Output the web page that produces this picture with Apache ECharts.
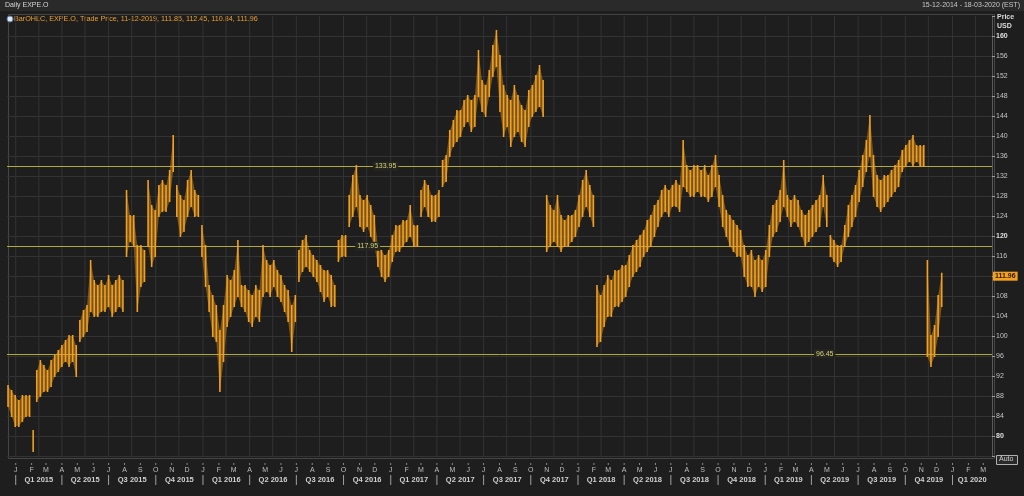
<!DOCTYPE html>
<html><head><meta charset="utf-8">
<script src="https://cdn.jsdelivr.net/npm/echarts@6/dist/echarts.min.js"></script>
<style>html,body{margin:0;padding:0;background:#1e1e1e}#c{width:1024px;height:496px}</style>
</head><body><div id="c"></div><script>
// ---- data (weekly high / low) ----
const firstWeek = '2014-12-15';
const weekHigh = [
90,89,88,87,88,88,88,81,93,95,
94,93,95,96,97,98,99,100,100,98,
103,105,106,115,111,110,111,110,112,110,
111,112,111,129,124,124,118,118,117,131,
126,125,130,131,130,133,140,130,128,127,
131,133,129,128,122,118,110,108,106,101,
106,112,111,113,119,110,110,109,108,110,
109,118,115,114,115,113,112,110,109,106,
108,117,119,120,117,116,115,114,113,113,
112,110,119,120,120,128,132,134,128,127,
128,126,124,118,117,116,117,120,122,122,
123,123,126,122,122,129,131,130,128,128,
129,135,136,141,143,145,145,147,148,147,
148,157,151,150,153,158,161,156,150,148,
147,150,148,146,145,149,150,152,154,151,
128,126,125,128,124,123,124,124,125,128,
131,133,130,128,110,108,110,112,111,113,
113,114,114,116,118,119,120,121,123,124,
126,127,129,130,129,130,131,130,139,134,
133,134,134,133,134,132,134,136,132,128,
125,124,123,122,121,118,116,117,115,116,
115,117,122,126,127,129,135,128,127,128,
127,125,124,125,126,127,128,132,128,120,
119,118,118,122,126,128,130,133,136,139,
144,136,132,131,132,132,133,134,135,137,
138,139,140,138,138,138,115,100,102,108,112.45];
const weekLow = [
86,84,82,82,83,84,84,77,87,88,
89,89,90,92,93,94,95,94,95,92,
99,100,101,105,104,104,105,105,106,104,
105,106,105,116,119,118,105,110,111,118,
114,116,124,125,125,127,133,124,120,121,
124,126,124,124,116,110,105,100,99,89,
95,102,104,106,108,106,105,103,102,104,
103,108,109,108,110,108,107,105,103,97,
103,111,113,114,113,112,111,109,107,108,
106,106,115,116,116,122,124,126,122,121,
122,120,118,114,112,111,112,115,117,117,
118,119,120,118,118,124,126,124,123,123,
124,130,131,136,138,139,140,142,143,141,
142,148,145,144,148,152,154,145,140,142,
138,140,141,139,138,142,144,145,146,144,
117,118,119,118,117,118,118,119,120,122,
124,126,124,122,98,99,102,104,104,106,
106,107,108,110,112,113,114,116,117,118,
120,122,124,125,124,126,126,125,130,129,
128,128,129,128,128,127,128,130,126,122,
120,118,117,116,116,112,110,110,108,110,
109,110,116,120,121,123,126,124,122,123,
122,120,118,119,120,121,122,126,122,116,
115,114,115,118,120,122,124,127,130,133,
136,128,126,125,126,127,128,129,130,133,
134,135,134,135,134,134,96,94,96,100,106];
const levels = [133.95, 117.95, 96.45];
const levelLabelDates = ['2016-12-22', '2016-11-17', '2019-04-27'];
const monthLetters = ['J','F','M','A','M','J','J','A','S','O','N','D'];
const quarterLabels = ['Q1 2015','Q2 2015','Q3 2015','Q4 2015','Q1 2016','Q2 2016','Q3 2016','Q4 2016',
  'Q1 2017','Q2 2017','Q3 2017','Q4 2017','Q1 2018','Q2 2018','Q3 2018','Q4 2018',
  'Q1 2019','Q2 2019','Q3 2019','Q4 2019','Q1 2020'];
const lastPrice = 111.96;
const legendText = 'BarOHLC, EXPE.O, Trade Price, 11-12-2019, 111.85, 112.45, 110.84, 111.96';
const titleText = 'Daily EXPE.O';
const rangeText = '15-12-2014 - 18-03-2020 (EST)';
const xStart = '2014-12-15', xEnd = '2020-03-18';

// ---- build ----
const DAY = 86400000;
const P = s => { const a = s.split('-').map(Number); return Date.UTC(a[0], a[1]-1, a[2]); };
const xMin = P(xStart), xMax = P(xEnd);
const w0 = P(firstWeek);
const bars = weekHigh.map((h, i) => [w0 + (i*7 + 2)*DAY, weekLow[i], h]);
const months = [];
for (let y = 2015; y <= 2020; y++) for (let m = 0; m < 12; m++) {
  const t = Date.UTC(y, m, 1); if (t <= xMax) months.push([t, m]);
}
const quarters = quarterLabels.map((q, i) => {
  const y = 2015 + Math.floor(i/4), m = (i%4)*3;
  const s = Date.UTC(y, m, 1), e = Math.min(Date.UTC(y, m+3, 1), xMax);
  return [s, e];
});
// vertical grid: quarter starts and mid-quarters
const vGrid = [];
quarters.forEach(q => { vGrid.push([q[0]]); const mid = q[0] + 45*DAY; if (mid < xMax) vGrid.push([mid]); });
const FONT = "'Liberation Sans', Arial, sans-serif";
const ORANGE = '#f2a01e';
const LEVEL = '#b3a935';

const chart = echarts.init(document.getElementById('c'));
chart.setOption({
  animation: false,
  backgroundColor: '#1e1e1e',
  grid: { left: 7, right: 32, top: 16, bottom: 40, show: false },
  xAxis: { type: 'time', min: xMin, max: xMax,
    axisLine: { show: false }, axisTick: { show: false }, axisLabel: { show: false },
    splitLine: { show: false } },
  yAxis: { type: 'value', position: 'right', min: 76, max: 164, interval: 4,
    axisLine: { show: true, lineStyle: { color: '#5a5a5a' } },
    axisTick: { show: true, length: 3, lineStyle: { color: '#9a9a9a' } },
    splitLine: { show: true, showMaxLine: false, lineStyle: { color: '#333333', width: 1 } },
    axisLabel: { margin: 4, color: '#c4c4c4', fontSize: 7, fontFamily: FONT,
      formatter: v => (v === 76 || v === 164) ? '' : ((v % 40 === 0) ? '{b|' + v + '}' : String(v)),
      rich: { b: { fontWeight: 'bold', color: '#e0e0e0', fontSize: 7, fontFamily: FONT } } } },
  series: [
    { type: 'custom', name: 'grid', silent: true, clip: true, z: 1,
      data: vGrid,
      renderItem: (p, api) => {
        const a = api.coord([api.value(0), 164]), b = api.coord([api.value(0), 76]);
        return { type: 'line', shape: { x1: a[0], y1: a[1] - 4, x2: b[0], y2: b[1] },
          style: { stroke: '#333333', lineWidth: 1 } };
      } },
    { type: 'custom', name: 'EXPE.O', clip: true, z: 5,
      data: bars,
      renderItem: (p, api) => {
        const i = p.dataIndex;
        const lo = api.coord([api.value(0), api.value(1)]), hi = api.coord([api.value(0), api.value(2)]);
        const kids = [];
        if (i + 1 < bars.length) {
          const n = bars[i + 1];
          if (n[1] <= api.value(2) && n[2] >= api.value(1)) {
            const nlo = api.coord([n[0], n[1]]), nhi = api.coord([n[0], n[2]]);
            kids.push({ type: 'polygon', shape: { points: [lo, hi, nhi, nlo] },
              style: { fill: ORANGE, opacity: 0.42 } });
          }
        }
        kids.push({ type: 'line', shape: { x1: lo[0], y1: lo[1] + 1, x2: hi[0], y2: hi[1] - 1 },
          style: { stroke: ORANGE, lineWidth: 1.6 } });
        return { type: 'group', children: kids };
      },
      markLine: { symbol: 'none', silent: true, label: { show: false },
        lineStyle: { color: LEVEL, width: 1, type: 'solid' },
        data: levels.map(v => ({ yAxis: v })) } },
    { type: 'custom', name: 'levelLabels', silent: true, clip: false, z: 10,
      data: levels.map((v, i) => [P(levelLabelDates[i]), v]),
      renderItem: (p, api) => {
        const c = api.coord([api.value(0), api.value(1)]);
        return { type: 'text', x: c[0], y: c[1],
          style: { text: levels[p.dataIndex].toFixed(2), fill: '#d8d27a', font: '7px ' + FONT,
            align: 'center', verticalAlign: 'middle', backgroundColor: '#262620', padding: [1, 2] } };
      } },
    { type: 'custom', name: 'months', silent: true, clip: false,
      data: months.map(m => [m[0]]),
      renderItem: (p, api) => {
        const c = api.coord([api.value(0), 76]);
        return { type: 'group', children: [
          { type: 'line', shape: { x1: c[0], y1: c[1] + 7, x2: c[0], y2: c[1] + 9 }, style: { stroke: '#8a8a8a', lineWidth: 1 } },
          { type: 'text', x: c[0], y: c[1] + 14,
            style: { text: monthLetters[months[p.dataIndex][1]], fill: '#bdbdbd', font: '7px ' + FONT,
              align: 'center', verticalAlign: 'middle' } }] };
      } },
    { type: 'custom', name: 'quarters', silent: true, clip: false,
      data: quarters.map(q => [q[0], q[1]]),
      renderItem: (p, api) => {
        const s = api.coord([api.value(0), 76]), e = api.coord([api.value(1), 76]);
        return { type: 'group', children: [
          { type: 'line', shape: { x1: s[0], y1: s[1] + 19, x2: s[0], y2: s[1] + 29 }, style: { stroke: '#a0a0a0', lineWidth: 1 } },
          { type: 'text', x: (s[0] + e[0]) / 2, y: s[1] + 23.5,
            style: { text: quarterLabels[p.dataIndex], fill: '#d0d0d0', font: 'bold 7.5px ' + FONT,
              align: 'center', verticalAlign: 'middle' } }] };
      } },
    { type: 'custom', name: 'lastTag', silent: true, clip: false, z: 20,
      data: [[xMax, lastPrice]],
      renderItem: (p, api) => {
        const c = api.coord([api.value(0), api.value(1)]);
        return { type: 'text', x: c[0] + 1, y: c[1],
          style: { text: lastPrice.toFixed(2), fill: '#2a1a00', font: 'bold 7px ' + FONT,
            align: 'left', verticalAlign: 'middle', backgroundColor: ORANGE, padding: [1, 2] } };
      } }
  ],
  graphic: [
    { type: 'rect', left: 0, top: 0, shape: { width: 1024, height: 11 }, style: { fill: '#2a2a2a' }, silent: true },
    { type: 'rect', left: 6, top: 12, shape: { width: 986, height: 444 }, style: { fill: 'none', stroke: '#454545', lineWidth: 1 }, silent: true, z: -1 },
    { type: 'text', left: 5, top: 2, style: { text: titleText, fill: '#d6d6d6', font: '7px ' + FONT } },
    { type: 'text', right: 4, top: 2, style: { text: rangeText, fill: '#c8c8c8', font: '7px ' + FONT } },
    { type: 'circle', shape: { cx: 10, cy: 19, r: 3 }, style: { fill: '#dfe6f0', stroke: '#5b7fb0', lineWidth: 1 } },
    { type: 'text', left: 14, top: 15.5, style: { text: legendText, fill: '#eda032', font: '7.2px ' + FONT } },
    { type: 'text', left: 997, top: 14, style: { text: 'Price', fill: '#dcdcdc', font: 'bold 7px ' + FONT } },
    { type: 'text', left: 997, top: 23, style: { text: 'USD', fill: '#dcdcdc', font: 'bold 7px ' + FONT } },
    { type: 'rect', left: 996, top: 455, shape: { width: 21, height: 9 }, style: { fill: '#2a2a2a', stroke: '#b0b0b0', lineWidth: 1 } },
    { type: 'text', left: 999, top: 456, style: { text: 'Auto', fill: '#d0d0d0', font: '7px ' + FONT } }
  ]
});
</script></body></html>
